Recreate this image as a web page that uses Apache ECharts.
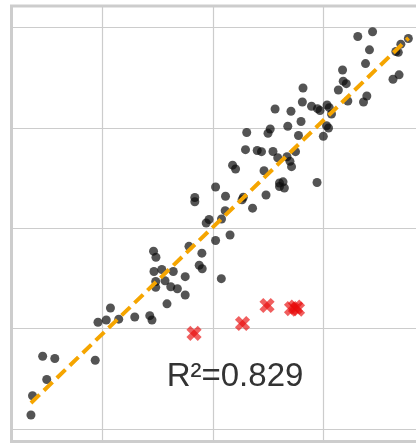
<!DOCTYPE html>
<html>
<head>
<meta charset="utf-8">
<script src="https://cdn.jsdelivr.net/npm/echarts@6/dist/echarts.min.js"></script>
<style>html,body{margin:0;padding:0;background:#fff}#c{width:416px;height:445px}</style>
</head>
<body>
<div id="c"></div>
<script>
// Observed points (x, y) in grid units (vertical gridlines at x=1,2,3; horizontal at y=0..4)
var pointsX = [0.352,0.366,0.495,0.458,0.568,0.934,0.959,1.034,1.072,1.147,1.292,1.428,1.448,1.584,1.749,1.678,1.618,1.566,1.482,1.482,
  1.466,1.537,1.641,1.749,1.462,1.484,1.783,1.900,1.876,1.903,2.076,2.024,2.155,1.939,1.965,2.078,2.111,1.836,1.836,2.024,
  2.114,2.275,2.264,2.359,2.481,2.603,2.635,2.603,2.647,2.943,2.463,2.178,2.205,2.295,2.401,2.440,2.544,2.587,2.671,2.698,
  2.712,2.748,2.306,2.519,2.499,2.678,2.798,2.775,2.563,2.707,2.810,2.816,2.893,2.947,2.970,3.034,3.054,3.074,3.029,3.047,
  3.000,3.136,3.174,3.180,3.208,3.222,3.364,3.394,3.382,3.312,3.446,3.418,3.631,3.686,3.770,3.702,3.657,3.679];
var pointsY = [0.141,0.333,0.495,0.726,0.704,0.686,1.064,1.087,1.206,1.095,1.117,1.130,1.087,1.248,1.336,1.398,1.418,1.478,1.412,1.470,
  1.570,1.589,1.570,1.518,1.772,1.711,1.820,1.752,1.632,1.597,1.498,1.878,1.933,2.052,2.087,2.092,2.175,2.306,2.264,2.411,
  2.319,2.308,2.283,2.200,2.331,2.450,2.462,2.416,2.401,2.455,2.572,2.628,2.590,2.782,2.774,2.762,2.764,2.702,2.712,2.666,
  2.613,2.762,2.953,2.988,2.945,3.015,3.062,2.923,3.187,3.165,3.257,3.396,3.214,3.190,3.172,3.227,3.200,3.137,3.020,2.998,
  2.915,3.376,3.575,3.464,3.439,3.266,3.257,3.316,3.639,3.908,3.956,3.776,3.483,3.527,3.889,3.832,3.759,3.751];
// Outliers (red crosses)
var outliersX = [1.829,2.268,2.490,2.712,2.748,2.766];
var outliersY = [0.954,1.052,1.231,1.201,1.214,1.196];
// Fit line end points
var fitX = [0.352,3.772];
var fitY = [0.261,3.893];
var r2Label = 'R²=0.829';

function zip(a,b){var r=[];for(var i=0;i<a.length;i++)r.push([a[i],b[i]]);return r;}

var chart = echarts.init(document.getElementById('c'), null, {renderer:'canvas'});
var hidden = {show:false};
var crossColor = 'rgba(232,10,10,0.82)';
chart.setOption({
  animation:false,
  backgroundColor:'#ffffff',
  grid:[
    {left:11.5, top:6, right:-30, bottom:3.5, show:true, borderColor:'#cdcdcd', borderWidth:3, backgroundColor:'transparent', outerBoundsMode:'none', containLabel:false},
    {left:-7.9, top:6, right:-30, bottom:3.5, outerBoundsMode:'none', containLabel:false},
    {left:11.5, top:6, right:-30, bottom:15.8, outerBoundsMode:'none', containLabel:false}
  ],
  xAxis:[
    {gridIndex:0, type:'value', show:false, min:0, max:1},
    {gridIndex:1, type:'value', min:0, max:4.111, interval:1, axisLine:hidden, axisTick:hidden, axisLabel:hidden,
      splitLine:{show:true, lineStyle:{color:'#cccccc', width:1.2}}},
    {gridIndex:2, type:'value', show:false, min:0, max:1}
  ],
  yAxis:[
    {gridIndex:0, type:'value', show:false, min:0, max:1},
    {gridIndex:1, type:'value', show:false, min:-0.1224, max:4.212},
    {gridIndex:2, type:'value', min:0, max:4.212, interval:1, axisLine:hidden, axisTick:hidden, axisLabel:hidden,
      splitLine:{show:true, lineStyle:{color:'#cccccc', width:1.2}}}
  ],
  series:[
    {type:'scatter', xAxisIndex:1, yAxisIndex:1, data:zip(pointsX,pointsY), symbol:'circle', symbolSize:9,
      itemStyle:{color:'rgba(12,12,12,0.88)'}, z:3},
    {type:'scatter', xAxisIndex:1, yAxisIndex:1, data:zip(outliersX,outliersY), symbol:'rect', symbolSize:[5.5,16], symbolRotate:45,
      itemStyle:{color:crossColor}, z:4},
    {type:'scatter', xAxisIndex:1, yAxisIndex:1, data:zip(outliersX,outliersY), symbol:'rect', symbolSize:[5.5,16], symbolRotate:-45,
      itemStyle:{color:crossColor}, z:4},
    {type:'line', xAxisIndex:1, yAxisIndex:1, data:zip(fitX,fitY), symbol:'none',
      lineStyle:{color:'#f5a500', width:4, type:[12,6], cap:'butt'}, z:5}
  ],
  graphic:[
    {type:'text', x:235, y:376.5, z:10, style:{text:r2Label, fontSize:33, fontFamily:'Liberation Sans, Arial, sans-serif', fill:'#333333', align:'center', verticalAlign:'middle'}}
  ]
});
</script>
</body>
</html>
